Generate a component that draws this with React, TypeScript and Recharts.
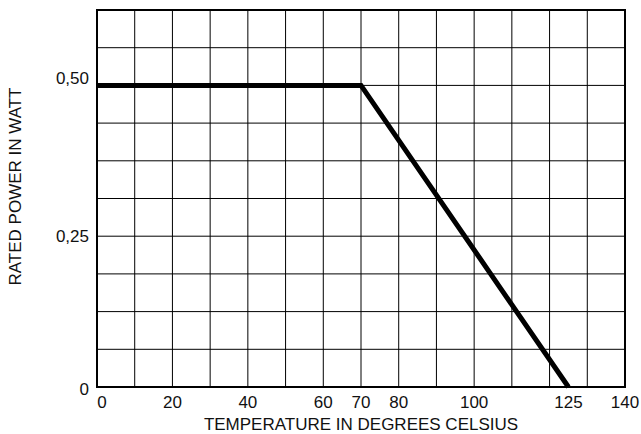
import React from "react";
import { LineChart, Line, XAxis, YAxis, CartesianGrid, ReferenceArea, Label } from "recharts";

// derating curve: temperature (°C) vs rated power (W)
const temps = [0, 70, 125];
const power = [0.5, 0.5, 0];
const data = temps.map((t, i) => ({ t, p: power[i] }));

const xTicks = [0, 20, 40, 60, 70, 80, 100, 125, 140];
const yTicks = [0, 0.25, 0.5];
const xGrid = [0, 10, 20, 30, 40, 50, 60, 70, 80, 90, 100, 110, 120, 130, 140];
const yGrid = [0, 0.0625, 0.125, 0.1875, 0.25, 0.3125, 0.375, 0.4375, 0.5, 0.5625, 0.625];

const font = "'Liberation Sans', Arial, sans-serif";
const ink = "#111";

const fmtY = (v: number) => (v === 0 ? "0" : v.toFixed(2).replace(".", ","));

const XTick = (props: any) => {
  const { x, y, payload } = props;
  const shift = payload.value === 0 ? 5 : 0;
  return (
    <text x={x + shift} y={y} dy={13} textAnchor="middle" fontSize={17} fontFamily={font} fill={ink}>
      {payload.value}
    </text>
  );
};

const YTick = (props: any) => {
  const { x, y, payload } = props;
  const v = payload.value;
  const shift = v === 0.5 ? -7 : v === 0 ? 2 : 0;
  return (
    <text x={x} y={y + shift} textAnchor="end" dominantBaseline="central" fontSize={17} fontFamily={font} fill={ink}>
      {fmtY(v)}
    </text>
  );
};

const YTitle = (props: any) => {
  const vb = props.viewBox;
  const cx = 15;
  const cy = vb.y + vb.height / 2 - 12;
  return (
    <text x={cx} y={cy} transform={`rotate(-90, ${cx}, ${cy})`} textAnchor="middle" dominantBaseline="central"
      fontSize={17} fontFamily={font} fill={ink}>
      RATED POWER IN WATT
    </text>
  );
};

const XTitle = (props: any) => {
  const vb = props.viewBox;
  return (
    <text x={vb.x + vb.width / 2} y={vb.y + 37} textAnchor="middle" dominantBaseline="central"
      fontSize={17} fontFamily={font} fill={ink}>
      TEMPERATURE IN DEGREES CELSIUS
    </text>
  );
};

export default function App() {
  return (
    <div style={{ position: "absolute", left: 0, top: 0, width: 641, height: 434, background: "#fff" }}>
      <LineChart width={641} height={434} data={data} margin={{ top: 10, right: 16, left: 0, bottom: 0 }}>
        <CartesianGrid verticalValues={xGrid} horizontalValues={yGrid} stroke="#000" strokeWidth={1} />
        <XAxis dataKey="t" type="number" domain={[0, 140]} ticks={xTicks} interval={0} height={47}
          axisLine={false} tickLine={false} tick={<XTick />}>
          <Label content={<XTitle />} />
        </XAxis>
        <YAxis type="number" domain={[0, 0.625]} ticks={yTicks} interval={0} width={97}
          axisLine={false} tickLine={false} tick={<YTick />}>
          <Label content={<YTitle />} />
        </YAxis>
        <ReferenceArea x1={0} x2={140} y1={0} y2={0.625} fill="none" stroke="#000" strokeWidth={2} fillOpacity={0} />
        <Line type="linear" dataKey="p" stroke="#000" strokeWidth={5} dot={false} isAnimationActive={false} />
      </LineChart>
    </div>
  );
}
